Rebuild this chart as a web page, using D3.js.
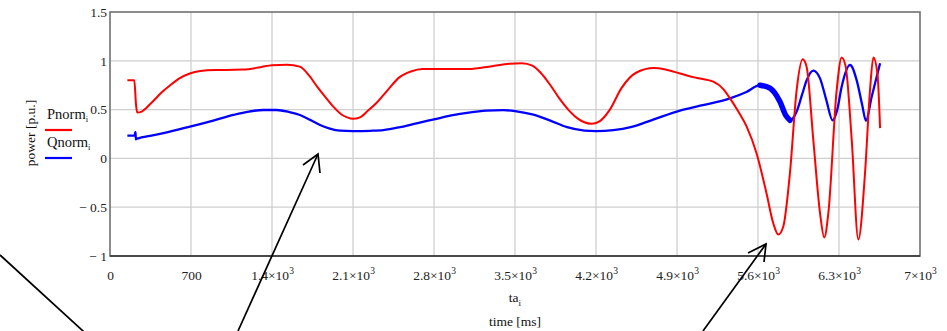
<!DOCTYPE html>
<html>
<head>
<meta charset="utf-8">
<script src="https://cdn.jsdelivr.net/npm/d3@7"></script>
<style>
  body { margin: 0; background: #fff; }
  text { font-family: "Liberation Serif", "Times New Roman", serif; }
</style>
</head>
<body>
<svg id="chart" width="947" height="331"></svg>
<script>
// Active power (normalised) against time in ms
const pTime = [150, 210, 225, 235, 274, 350, 450, 520, 600, 690, 780, 900, 1000, 1150, 1300, 1400, 1530, 1640,
  1720, 1790, 1860, 1930, 2000, 2050, 2100, 2160, 2230, 2300, 2400, 2500, 2600, 2700, 2900, 3100, 3300, 3450, 3560,
  3650, 3720, 3800, 3880, 3960, 4040, 4100, 4160, 4230, 4320, 4420, 4550, 4700, 4800, 4926, 5050, 5214, 5300, 5358,
  5430, 5502, 5588, 5674, 5732, 5775, 5818, 5876, 5934, 5986, 6020, 6078, 6136, 6173, 6208, 6280, 6323, 6358,
  6410, 6467, 6525, 6568, 6597, 6632, 6655];
const pNorm = [0.80, 0.80, 0.55, 0.47, 0.48, 0.56, 0.68, 0.75, 0.82, 0.87, 0.895, 0.905, 0.905, 0.91, 0.935, 0.955, 0.96, 0.94,
  0.85, 0.735, 0.63, 0.53, 0.45, 0.42, 0.405, 0.42, 0.49, 0.565, 0.70, 0.83, 0.89, 0.915, 0.915, 0.915, 0.945, 0.97, 0.975,
  0.95, 0.88, 0.76, 0.62, 0.50, 0.41, 0.37, 0.355, 0.38, 0.50, 0.72, 0.88, 0.925, 0.91, 0.87, 0.83, 0.786, 0.71, 0.615,
  0.48, 0.325, 0.05, -0.36, -0.665, -0.78, -0.70, -0.15, 0.70, 1.015, 0.94, 0.19, -0.56, -0.81, -0.56, 0.70, 1.035, 0.94,
  0.19, -0.83, -0.15, 0.70, 1.035, 0.87, 0.31];

// Reactive power (normalised) against time in ms
const qTime = [150, 214, 218, 221, 223, 228, 245, 346, 500, 691, 900, 1066, 1200, 1325, 1440, 1550, 1642, 1730,
  1815, 1900, 1987, 2100, 2250, 2362, 2506, 2650, 2800, 2950, 3100, 3250, 3400, 3500, 3650, 3800, 3950, 4100,
  4200, 4350, 4500, 4700, 4926, 5100, 5358, 5500, 5617, 5703, 5790, 5840, 5876, 5934, 5980, 6020, 6078, 6136,
  6190, 6245, 6285, 6323, 6395, 6453, 6500, 6533, 6582, 6655];
const qNorm = [0.233, 0.233, 0.27, 0.27, 0.195, 0.20, 0.206, 0.23, 0.27, 0.325, 0.39, 0.445, 0.48, 0.496, 0.496, 0.475, 0.445, 0.395,
  0.342, 0.305, 0.284, 0.28, 0.283, 0.29, 0.32, 0.36, 0.40, 0.44, 0.47, 0.49, 0.495, 0.485, 0.45, 0.39, 0.32, 0.285,
  0.28, 0.29, 0.32, 0.40, 0.49, 0.54, 0.615, 0.68, 0.75, 0.72, 0.58, 0.44, 0.39, 0.48, 0.65, 0.80, 0.90, 0.82,
  0.60, 0.39, 0.50, 0.735, 0.957, 0.80, 0.55, 0.386, 0.63, 0.974];

// Interval where Q carries a fast ripple (drawn as a thicker trace)
const qRippleRange = [5560, 5890];

const xTicks = [0, 700, 1400, 2100, 2800, 3500, 4200, 4900, 5600, 6300, 7000];
const yTicks = [-1, -0.5, 0, 0.5, 1, 1.5];

const svg = d3.select("#chart");
const x = d3.scaleLinear().domain([0, 7000]).range([110, 920]);
const y = d3.scaleLinear().domain([-1, 1.5]).range([256, 12]);

// grid
svg.append("g").selectAll("line").data(xTicks.slice(1, -1)).join("line")
  .attr("x1", d => x(d)).attr("x2", d => x(d)).attr("y1", y(1.5)).attr("y2", y(-1))
  .attr("stroke", "#cfcfcf").attr("stroke-width", 1.3);
svg.append("g").selectAll("line").data(yTicks.slice(1, -1)).join("line")
  .attr("x1", x(0)).attr("x2", x(7000)).attr("y1", d => y(d)).attr("y2", d => y(d))
  .attr("stroke", "#cfcfcf").attr("stroke-width", 1.3);

// frame
svg.append("rect").attr("x", x(0)).attr("y", y(1.5)).attr("width", x(7000) - x(0)).attr("height", y(-1) - y(1.5))
  .attr("fill", "none").attr("stroke", "#707070").attr("stroke-width", 1.6);
svg.append("line").attr("x1", x(0)).attr("x2", x(7000)).attr("y1", y(-1)).attr("y2", y(-1))
  .attr("stroke", "#333").attr("stroke-width", 1.6);

// x axis labels
const xAxis = d3.axisBottom(x).tickValues(xTicks).tickSize(0).tickPadding(0).tickFormat("");
const gx = svg.append("g").attr("transform", `translate(0,${y(-1)})`).call(xAxis);
gx.select(".domain").remove();
gx.selectAll(".tick").each(function (d) {
  const t = d3.select(this).append("text")
    .attr("y", 24).attr("fill", "#222").attr("font-size", 13.5).attr("text-anchor", "middle");
  if (d < 1000) {
    t.text(d);
  } else {
    t.append("tspan").text(d3.format("~g")(d / 1000) + "×10");
    t.append("tspan").attr("font-size", 9.5).attr("dy", -6).text("3");
  }
});

// y axis labels
const yAxis = d3.axisLeft(y).tickValues(yTicks).tickSize(0).tickPadding(3)
  .tickFormat(d => d < 0 ? "\u2212 " + Math.abs(d) : String(d));
const gy = svg.append("g").attr("transform", `translate(${x(0)},0)`).call(yAxis);
gy.select(".domain").remove();
gy.selectAll("text").attr("font-size", 13.5).attr("fill", "#222").attr("font-family", "Liberation Serif, serif");

// axis titles
const xt = svg.append("text").attr("x", 515).attr("y", 302).attr("text-anchor", "middle").attr("font-size", 13.5).attr("fill", "#111");
xt.append("tspan").text("ta");
xt.append("tspan").attr("font-size", 9).attr("dy", 4).text("i");
svg.append("text").attr("x", 515).attr("y", 326).attr("text-anchor", "middle").attr("font-size", 13.5).attr("fill", "#111")
  .text("time [ms]");
svg.append("text").attr("transform", "translate(35,133) rotate(-90)").attr("text-anchor", "middle")
  .attr("font-size", 13.5).attr("fill", "#111").text("power [p.u.]");

// legend
const legend = [
  { name: "Pnorm", color: "#ff0000", ty: 119, ly: 130 },
  { name: "Qnorm", color: "#0000ff", ty: 147, ly: 158 }
];
legend.forEach(l => {
  const t = svg.append("text").attr("x", 47).attr("y", l.ty).attr("font-size", 14.5).attr("fill", "#111");
  t.append("tspan").text(l.name);
  t.append("tspan").attr("font-size", 8.5).attr("dy", 3).text("i");
  svg.append("line").attr("x1", 45).attr("x2", 72).attr("y1", l.ly).attr("y2", l.ly)
    .attr("stroke", l.color).attr("stroke-width", 2.2);
});

// series
const line = d3.line().x(d => x(d[0])).y(d => y(d[1])).curve(d3.curveMonotoneX);
const pData = pTime.map((t, i) => [t, pNorm[i]]);
const qData = qTime.map((t, i) => [t, qNorm[i]]);

svg.append("path").datum(qData).attr("d", line).attr("fill", "none")
  .attr("stroke", "#0000ff").attr("stroke-width", 2.3);
svg.append("path").datum(qData.filter(d => d[0] >= qRippleRange[0] && d[0] <= qRippleRange[1]))
  .attr("d", line).attr("fill", "none").attr("stroke", "#0000ff").attr("stroke-width", 5.5).attr("stroke-linecap", "round");
svg.append("path").datum(pData).attr("d", line).attr("fill", "none")
  .attr("stroke", "#ff0000").attr("stroke-width", 2);

// annotation arrows
const arrows = [
  { from: [0, 255], to: [95, 342], head: false },
  { from: [238, 331], to: [318, 154], head: true, a1: [303, 165], a2: [320, 173] },
  { from: [703, 331], to: [766, 244], head: true, a1: [748, 253], a2: [764, 262] }
];
arrows.forEach(a => {
  svg.append("line").attr("x1", a.from[0]).attr("y1", a.from[1]).attr("x2", a.to[0]).attr("y2", a.to[1])
    .attr("stroke", "#000").attr("stroke-width", 1.7);
  if (a.head) {
    svg.append("polyline").attr("points", [a.a1, a.to, a.a2].map(p => p.join(",")).join(" "))
      .attr("fill", "none").attr("stroke", "#000").attr("stroke-width", 1.7);
  }
});
</script>
</body>
</html>
